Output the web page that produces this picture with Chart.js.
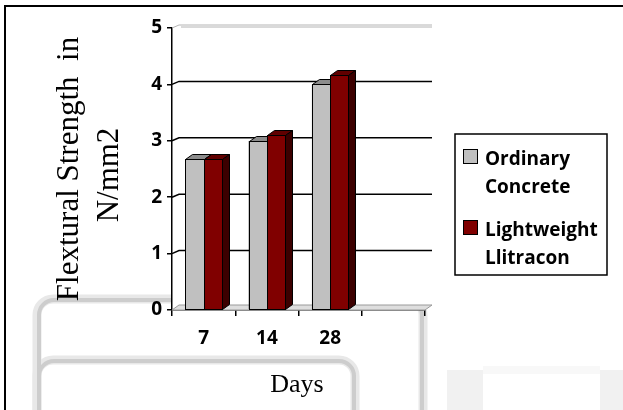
<!DOCTYPE html>
<html>
<head>
<meta charset="utf-8">
<script src="https://cdn.jsdelivr.net/npm/chart.js@4"></script>
<style>
  body { margin: 0; background: #fff; }
  #wrap { width: 623px; height: 410px; }
</style>
</head>
<body>
<div id="wrap"><canvas id="chart" width="623" height="410"></canvas></div>
<script>
// Flextural strength, 3D-style clustered columns

const days = ['7', '14', '28', ''];
const ordinaryConcrete = [2.67, 3.0, 4.0, null];
const lightweightLlitracon = [2.67, 3.1, 4.17, null];
const seriesNames = [['Ordinary', 'Concrete'], ['Lightweight', 'Llitracon']];
const yTicks = [0, 1, 2, 3, 4, 5];
const yTitle = ['Flextural Strength  in', 'N/mm2'];
const xTitle = 'Days';

const DX = 7, DY = -5; // depth of the fake 3D
const faces = [
    { front: '#c0c0c0', top: '#8c8c8c', side: '#606060' },
    { front: '#800000', top: '#600000', side: '#3c0000' }
];
const tickFont = { family: '"Open Sans"', weight: 'bold', size: 19 };

// page background: scan frame and the faint watermark boxes
const backdrop = {
    id: 'backdrop',
    beforeDraw(chart) {
        const ctx = chart.ctx;
        const a = chart.chartArea;
        ctx.save();
        ctx.fillStyle = '#fff';
        ctx.fillRect(0, 0, chart.width, chart.height);

        ctx.lineWidth = 9;
        ctx.strokeStyle = '#e8e8e8';
        ctx.beginPath();
        ctx.roundRect(37, 299, 386, 200, 16);
        ctx.stroke();
        ctx.beginPath();
        ctx.roundRect(37, 360, 318, 120, 16);
        ctx.stroke();
        ctx.lineWidth = 4;
        ctx.strokeStyle = '#cdcdcd';
        ctx.beginPath();
        ctx.roundRect(39, 300, 383, 200, 15);
        ctx.stroke();
        ctx.beginPath();
        ctx.roundRect(39, 361, 315, 120, 15);
        ctx.stroke();

        ctx.fillStyle = '#f1f1f1';
        ctx.fillRect(447, 370, 36, 42);
        ctx.fillRect(600, 370, 23, 42);
        ctx.fillStyle = '#f8f8f8';
        ctx.fillRect(483, 366, 117, 8);

        // white plot region hides what lies behind the chart
        ctx.fillStyle = '#fff';
        ctx.fillRect(a.left, a.top + DY - 4, a.right - a.left + DX + 2, a.bottom - a.top - DY + 4);

        ctx.strokeStyle = '#000';
        ctx.lineWidth = 2;
        ctx.beginPath();
        ctx.moveTo(5, chart.height);
        ctx.lineTo(5, 6);
        ctx.lineTo(chart.width, 6);
        ctx.stroke();
        ctx.restore();
    }
};

// back wall grid lines and the floor
const walls = {
    id: 'walls',
    beforeDatasetsDraw(chart) {
        const ctx = chart.ctx;
        const a = chart.chartArea;
        const y = chart.scales.y;
        ctx.save();
        const y0 = y.getPixelForValue(0);
        ctx.fillStyle = '#dedede';
        ctx.strokeStyle = '#9a9a9a';
        ctx.lineWidth = 1;
        ctx.beginPath();
        ctx.moveTo(a.left, y0);
        ctx.lineTo(a.right, y0);
        ctx.lineTo(a.right + DX, y0 + DY);
        ctx.lineTo(a.left + DX, y0 + DY);
        ctx.closePath();
        ctx.fill();
        ctx.stroke();

        yTicks.slice(1).forEach(v => {
            const py = y.getPixelForValue(v);
            const top = v === yTicks[yTicks.length - 1];
            ctx.strokeStyle = top ? '#b4b4b4' : '#000';
            ctx.lineWidth = top ? 1 : 1.5;
            ctx.beginPath();
            ctx.moveTo(a.left, py);
            ctx.lineTo(a.left + DX, py - 3);
            ctx.lineTo(a.right + DX, py - 3);
            ctx.stroke();
            if (top) {
                ctx.beginPath();
                ctx.moveTo(a.left + DX + 2, py - 1);
                ctx.lineTo(a.right + DX, py - 1);
                ctx.stroke();
            }
        });
        ctx.restore();
    }
};

// columns redrawn as boxes, series in order so each hides the side of the one before
const depth = {
    id: 'depth',
    afterDatasetsDraw(chart) {
        const ctx = chart.ctx;
        ctx.save();
        ctx.strokeStyle = '#000';
        ctx.lineWidth = 1;
        days.forEach((d, i) => {
            chart.data.datasets.forEach((ds, k) => {
                if (ds.data[i] == null) return;
                const col = faces[k];
                const bar = chart.getDatasetMeta(k).data[i];
                const { x, y, base, width } = bar.getProps(['x', 'y', 'base', 'width'], true);
                const x0 = Math.round(x - width / 2) + 0.5, x1 = Math.round(x + width / 2) + 0.5;
                const yt = Math.round(y) + 0.5, yb = Math.round(base) + 0.5;
                ctx.fillStyle = col.front;
                ctx.fillRect(x0, yt, x1 - x0, yb - yt);
                ctx.strokeRect(x0, yt, x1 - x0, yb - yt);
                ctx.fillStyle = col.top;
                ctx.beginPath();
                ctx.moveTo(x0, yt);
                ctx.lineTo(x0 + DX, yt + DY);
                ctx.lineTo(x1 + DX, yt + DY);
                ctx.lineTo(x1, yt);
                ctx.closePath();
                ctx.fill();
                ctx.stroke();
                ctx.fillStyle = col.side;
                ctx.beginPath();
                ctx.moveTo(x1, yt);
                ctx.lineTo(x1 + DX, yt + DY);
                ctx.lineTo(x1 + DX, yb + DY);
                ctx.lineTo(x1, yb);
                ctx.closePath();
                ctx.fill();
                ctx.stroke();
            });
        });
        ctx.restore();
    }
};

// axis titles and the boxed legend
const labels = {
    id: 'labels',
    afterDraw(chart) {
        const ctx = chart.ctx;
        ctx.save();
        ctx.fillStyle = '#000';
        ctx.font = '31px "Liberation Serif"';
        ctx.textAlign = 'center';
        ctx.textBaseline = 'alphabetic';
        [[78, 169], [118, 175]].forEach((p, i) => {
            ctx.save();
            ctx.translate(p[0], p[1]);
            ctx.rotate(-Math.PI / 2);
            ctx.fillText(yTitle[i], 0, 0);
            ctx.restore();
        });
        ctx.font = '26px "Liberation Serif"';
        ctx.fillText(xTitle, 297, 392);

        ctx.strokeStyle = '#000';
        ctx.lineWidth = 1.5;
        ctx.strokeRect(455, 134, 152, 141);
        ctx.font = 'bold 19px "Open Sans"';
        ctx.textAlign = 'left';
        chart.data.datasets.forEach((ds, i) => {
            const top = 149 + i * 71;
            ctx.fillStyle = ds.backgroundColor;
            ctx.fillRect(463, top, 15, 15);
            ctx.lineWidth = 1;
            ctx.strokeRect(463.5, top + 0.5, 14, 14);
            ctx.fillStyle = '#000';
            seriesNames[i].forEach((t, j) => ctx.fillText(t, 485, top + 16 + j * 28));
        });
        ctx.restore();
    }
};

new Chart(document.getElementById('chart'), {
    type: 'bar',
    data: {
        labels: days,
        datasets: [{
            label: seriesNames[0].join(' '),
            data: ordinaryConcrete,
            backgroundColor: faces[0].front,
            borderColor: '#000',
            borderWidth: 1
        }, {
            label: seriesNames[1].join(' '),
            data: lightweightLlitracon,
            backgroundColor: faces[1].front,
            borderColor: '#000',
            borderWidth: 1
        }]
    },
    options: {
        responsive: false,
        animation: false,
        events: [],
        layout: { padding: { left: 0, right: 198, top: 28, bottom: 0 } },
        datasets: { bar: { barPercentage: 1, categoryPercentage: 0.58 } },
        plugins: {
            legend: { display: false },
            tooltip: { enabled: false }
        },
        scales: {
            x: {
                grid: { drawOnChartArea: false, tickLength: 6, color: '#000', lineWidth: 1.5 },
                border: { color: '#000', width: 1.5 },
                ticks: { color: '#000', font: tickFont, padding: 11 },
                afterFit(scale) { scale.height = 100; }
            },
            y: {
                min: 0,
                max: 5,
                ticks: { stepSize: 1, color: '#000', font: tickFont, padding: 5 },
                grid: { drawOnChartArea: false, tickLength: 5, color: '#000', lineWidth: 1.5 },
                border: { color: '#000', width: 1.5 },
                afterFit(scale) { scale.width = 172; }
            }
        }
    },
    plugins: [backdrop, walls, depth, labels]
});
</script>
</body>
</html>
